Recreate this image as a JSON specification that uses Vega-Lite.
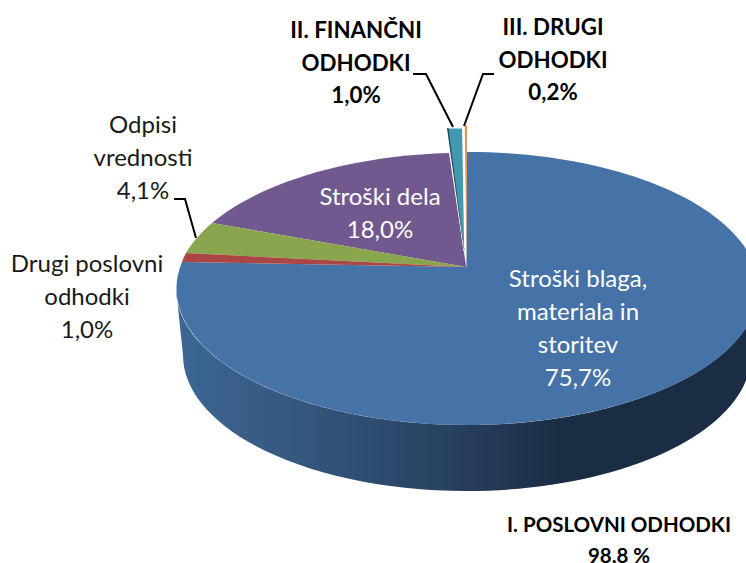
{
"$schema":"https://vega.github.io/schema/vega-lite/v6.json",
"width":746,"height":563,"padding":0,"autosize":"none","background":"white",
"config":{"view":{"stroke":null}},
"datasets":{
"slices":[
{"slice":"Stroški blaga, materiala in storitev","value":75.7},
{"slice":"Stroški dela","value":18.0},
{"slice":"Odpisi vrednosti","value":4.1},
{"slice":"Drugi poslovni odhodki","value":1.0},
{"slice":"II. FINANČNI ODHODKI","value":1.0},
{"slice":"III. DRUGI ODHODKI","value":0.2}
],
"labels":[
{"text":"Stroški blaga,\nmateriala in\nstoritev\n75,7%","kind":"inside","x":578,"y":280},
{"text":"Stroški dela\n18,0%","kind":"inside","x":380,"y":198},
{"text":"Odpisi\nvrednosti\n4,1%","kind":"outside","x":143,"y":126},
{"text":"Drugi poslovni\nodhodki\n1,0%","kind":"outside","x":87,"y":265},
{"text":"II. FINANČNI\nODHODKI\n1,0%","kind":"group","x":356,"y":31},
{"text":"III. DRUGI\nODHODKI\n0,2%","kind":"group","x":553,"y":28},
{"text":"I. POSLOVNI ODHODKI\n98,8 %","kind":"total","x":619,"y":526}
],
"leaders":[
{"slice":"II","i":0,"x":413,"y":74},{"slice":"II","i":1,"x":426,"y":74},{"slice":"II","i":2,"x":453,"y":127},
{"slice":"III","i":0,"x":494,"y":74},{"slice":"III","i":1,"x":483,"y":74},{"slice":"III","i":2,"x":464,"y":126},
{"slice":"Odpisi","i":0,"x":174,"y":199},{"slice":"Odpisi","i":1,"x":185,"y":199},{"slice":"Odpisi","i":2,"x":196,"y":238}
]
},
"encoding":{},
"layer":[
{"data":{"name":"slices"},
 "transform":[{"filter":"datum.slice === 'Stroški blaga, materiala in storitev'"}],
 "mark":{"type":"point","filled":true,"opacity":1,"size":4,"strokeWidth":0,
  "shape":"M-291,0 L-284,66.5 A284,136 0 0 0 284,66.5 L291,0 A291,136.5 0 0 1 -291,0 Z",
  "fill":{"gradient":"linear","x1":0,"y1":0,"x2":1,"y2":0,"stops":[{"offset":0,"color":"#3c6795"},{"offset":0.2,"color":"#35587f"},{"offset":0.5,"color":"#263e5c"},{"offset":0.66,"color":"#1b2d44"},{"offset":1,"color":"#1b2d44"}]}},
 "encoding":{
  "x":{"datum":467,"type":"quantitative","scale":{"domain":[0,746],"nice":false,"zero":false},"axis":null},
  "y":{"datum":288.5,"type":"quantitative","scale":{"domain":[563,0],"nice":false,"zero":false},"axis":null}}
},
{"data":{"name":"slices"},
 "mark":{"type":"point","filled":true,"opacity":1,"size":4,"strokeWidth":0},
 "encoding":{
  "x":{"datum":467,"type":"quantitative","axis":null},
  "y":{"datum":288.5,"type":"quantitative","axis":null},
  "order":{"field":"value","type":"quantitative","sort":"descending"},
  "shape":{"field":"slice","type":"nominal","legend":null,"scale":{
   "domain":["Stroški blaga, materiala in storitev","Stroški dela","Odpisi vrednosti","Drugi poslovni odhodki","II. FINANČNI ODHODKI","III. DRUGI ODHODKI"],
   "range":[
    "M-0.5,-21.5 L-0.3,-136.5 A291,136.5 0 1 1 -285,-26.5 Z",
    "M-0.8,-21.5 L-255,-65.5 A291,136.5 0 0 1 -18,-135.5 Z",
    "M-0.5,-21.5 L-281,-35.5 A291,136.5 0 0 1 -255,-65.5 Z",
    "M-0.5,-21.5 L-285,-26.5 A291,136.5 0 0 1 -281,-35.5 Z",
    "M-20,-160.5 L-4.3,-160.5 L-2.2,-38 L-3,-38 Z",
    "M-2.3,-163 L0,-163 L-0.4,-25 Z"]}},
  "fill":{"field":"slice","type":"nominal","legend":null,"scale":{
   "domain":["Stroški blaga, materiala in storitev","Stroški dela","Odpisi vrednosti","Drugi poslovni odhodki","II. FINANČNI ODHODKI","III. DRUGI ODHODKI"],
   "range":["#4572a7","#71588f","#89a54e","#aa4643","#4198af","#e8924f"]}},
  "stroke":{"condition":{"test":"datum.slice === 'II. FINANČNI ODHODKI'","value":"#ffffff"},"value":null},
  "strokeWidth":{"condition":{"test":"datum.slice === 'II. FINANČNI ODHODKI'","value":1.2},"value":0}
 }
},
{"data":{"name":"slices"},
 "transform":[{"filter":"datum.slice === 'II. FINANČNI ODHODKI'"}],
 "mark":{"type":"point","filled":true,"opacity":1,"size":4,"strokeWidth":0,"fill":"#1f4b5c",
  "shape":"M-20,-160.5 L-18.5,-160.5 L-2.5,-38 L-3,-38 Z"},
 "encoding":{
  "x":{"datum":467,"type":"quantitative","axis":null},
  "y":{"datum":288.5,"type":"quantitative","axis":null}}
},
{"data":{"name":"leaders"},
 "mark":{"type":"line","color":"#000000","strokeWidth":2,"interpolate":"linear"},
 "encoding":{
  "x":{"field":"x","type":"quantitative","axis":null},
  "y":{"field":"y","type":"quantitative","axis":null},
  "detail":{"field":"slice"},
  "order":{"field":"i","type":"ordinal"}}
},
{"data":{"name":"labels"},
 "transform":[{"filter":"datum.kind === 'inside' || datum.kind === 'outside'"}],
 "mark":{"type":"text","font":"Lato","fontSize":24,"lineHeight":33,"align":"center","baseline":"middle","lineBreak":"\n"},
 "encoding":{
  "x":{"field":"x","type":"quantitative","axis":null},
  "y":{"field":"y","type":"quantitative","axis":null},
  "text":{"field":"text"},
  "color":{"field":"kind","type":"nominal","legend":null,"scale":{"domain":["inside","outside"],"range":["#ffffff","#1a1a1a"]}}}
},
{"data":{"name":"labels"},
 "transform":[{"filter":"datum.kind === 'group'"}],
 "mark":{"type":"text","font":"Lato","fontSize":22.3,"fontWeight":"bold","lineHeight":32.5,"align":"center","baseline":"middle","lineBreak":"\n","color":"#000000"},
 "encoding":{
  "x":{"field":"x","type":"quantitative","axis":null},
  "y":{"field":"y","type":"quantitative","axis":null},
  "text":{"field":"text"}}
},
{"data":{"name":"labels"},
 "transform":[{"filter":"datum.kind === 'total'"}],
 "mark":{"type":"text","font":"Lato","fontSize":20.5,"fontWeight":"bold","lineHeight":31,"align":"center","baseline":"middle","lineBreak":"\n","color":"#000000"},
 "encoding":{
  "x":{"field":"x","type":"quantitative","axis":null},
  "y":{"field":"y","type":"quantitative","axis":null},
  "text":{"field":"text"}}
}
]
}
